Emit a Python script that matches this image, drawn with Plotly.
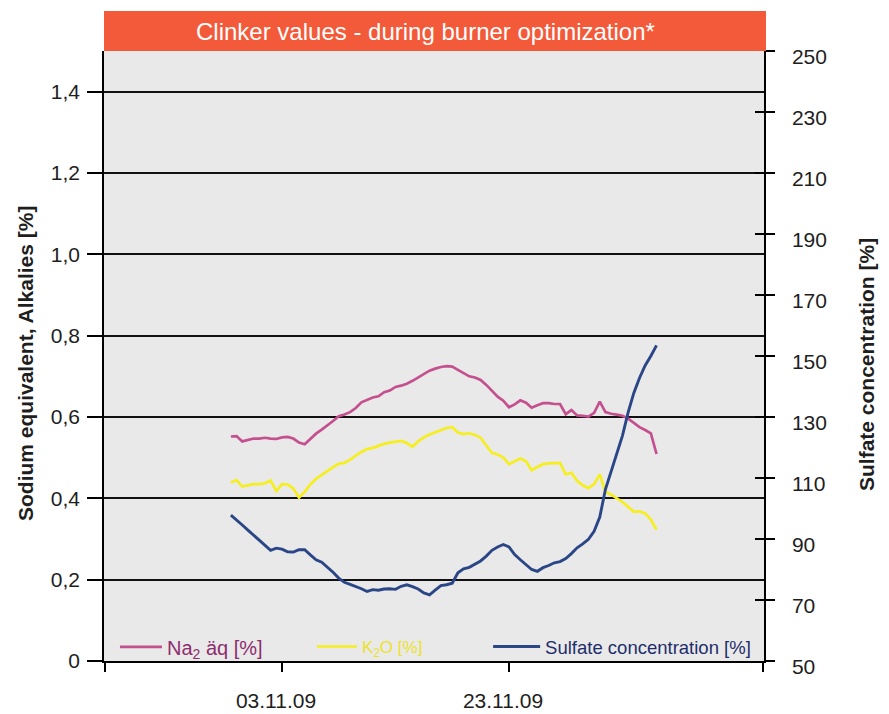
import plotly.graph_objects as go
import pandas as pd

# ---- data ----
dates = pd.date_range("2009-10-29 12:00", periods=76, freq="12h")

na2_eq = [0.552, 0.553, 0.540, 0.543, 0.547, 0.547, 0.549, 0.547, 0.546, 0.550,
          0.551, 0.547, 0.537, 0.533, 0.547, 0.559, 0.569, 0.579, 0.590, 0.602,
          0.606, 0.612, 0.622, 0.636, 0.643, 0.648, 0.651, 0.661, 0.665, 0.674,
          0.677, 0.682, 0.689, 0.697, 0.705, 0.714, 0.719, 0.723, 0.725, 0.724,
          0.716, 0.707, 0.700, 0.697, 0.691, 0.679, 0.665, 0.650, 0.640, 0.624,
          0.631, 0.641, 0.635, 0.623, 0.629, 0.634, 0.634, 0.632, 0.632, 0.607,
          0.617, 0.604, 0.603, 0.601, 0.610, 0.638, 0.612, 0.608, 0.606, 0.603,
          0.596, 0.585, 0.575, 0.568, 0.560, 0.509]

k2o = [0.439, 0.445, 0.429, 0.432, 0.435, 0.435, 0.437, 0.444, 0.418, 0.435,
       0.434, 0.424, 0.402, 0.416, 0.434, 0.448, 0.458, 0.468, 0.477, 0.485,
       0.487, 0.495, 0.505, 0.514, 0.521, 0.524, 0.529, 0.534, 0.537, 0.539,
       0.541, 0.536, 0.527, 0.540, 0.550, 0.557, 0.562, 0.569, 0.573, 0.575,
       0.562, 0.558, 0.560, 0.556, 0.549, 0.530, 0.512, 0.508, 0.500, 0.484,
       0.491, 0.498, 0.491, 0.469, 0.477, 0.484, 0.486, 0.486, 0.487, 0.459,
       0.463, 0.443, 0.432, 0.425, 0.435, 0.459, 0.416, 0.409, 0.400, 0.391,
       0.379, 0.367, 0.368, 0.363, 0.348, 0.323]

sulfate = [97.8, 96.3, 94.6, 92.9, 91.3, 89.5, 88.2, 86.3, 87.0, 86.7,
           85.8, 85.7, 86.5, 86.5, 84.8, 83.2, 82.4, 80.8, 79.1, 77.2,
           75.8, 75.1, 74.5, 73.7, 72.8, 73.4, 73.2, 73.6, 73.7, 73.5,
           74.5, 75.0, 74.4, 73.6, 72.3, 71.7, 73.2, 74.7, 75.0, 75.5,
           78.9, 80.2, 80.7, 81.8, 82.8, 84.4, 86.3, 87.4, 88.2, 87.4,
           84.9, 83.2, 81.7, 80.0, 79.4, 80.6, 81.3, 82.2, 82.6, 83.6,
           85.2, 87.1, 88.4, 89.9, 92.5, 97.2, 106.3, 112.4, 118.6, 123.9,
           131.5, 137.9, 142.8, 146.9, 150.0, 153.5]

left_ticks = [0, 0.2, 0.4, 0.6, 0.8, 1.0, 1.2, 1.4]
left_labels = ["0", "0,2", "0,4", "0,6", "0,8", "1,0", "1,2", "1,4"]
right_ticks = [50, 70, 90, 110, 130, 150, 170, 190, 210, 230, 250]
x_tickvals = ["2009-10-18 09:00", "2009-11-03", "2009-11-23", "2009-12-15 10:00"]
x_ticktext = [" ", "03.11.09", "23.11.09", " "]
x_range = ["2009-10-18 07:40", "2009-12-15 11:15"]

title_text = "Clinker values - during burner optimization*"
left_title = "Sodium equivalent, Alkalies [%]"
right_title = "Sulfate concentration [%]"

FONT = "Liberation Sans, Arial, sans-serif"
C_NA = "#C4508F"
C_K = "#F6EE1E"
C_SO = "#2A4686"
TXT = "#1E1E1E"

# figure geometry (page has an 8px body margin)
W, H = 881, 706
L, R, T, B = 96, 125, 43, 53
PW = W - L - R   # 660
PH = H - T - B   # 610

fig = go.Figure()
fig.add_trace(go.Scatter(x=dates, y=na2_eq, mode="lines", name="Na<sub>2</sub> äq [%]",
                         line=dict(color=C_NA, width=2.7), legend="legend"))
fig.add_trace(go.Scatter(x=dates, y=k2o, mode="lines", name="K<sub>2</sub>O [%]",
                         line=dict(color=C_K, width=2.7), legend="legend2"))
fig.add_trace(go.Scatter(x=dates, y=sulfate, mode="lines", name="Sulfate concentration [%]",
                         line=dict(color=C_SO, width=2.9), yaxis="y2", legend="legend3"))
# invisible helper trace so the inner right tick axis is drawn
fig.add_trace(go.Scatter(x=[dates[0]], y=[None], yaxis="y3", showlegend=False,
                         hoverinfo="skip", mode="lines"))

leg_common = dict(orientation="h", yanchor="middle", xanchor="left", y=0.023,
                  bgcolor="rgba(0,0,0,0)")

fig.update_layout(
    width=W, height=H,
    margin=dict(l=L, r=R, t=T, b=B, autoexpand=False),
    paper_bgcolor="white",
    plot_bgcolor="#E9E9E9",
    font=dict(family=FONT, size=20, color=TXT),
    showlegend=True,
    legend=dict(leg_common, x=0.0166, itemwidth=42,
                font=dict(family=FONT, size=20, color="#8E2D6E")),
    legend2=dict(leg_common, x=0.315, itemwidth=40,
                 font=dict(family=FONT, size=17, color="#EDE22A")),
    legend3=dict(leg_common, x=0.582, itemwidth=47,
                 font=dict(family=FONT, size=18.5, color="#1E2D6A")),
    xaxis=dict(type="date", range=x_range, tickvals=x_tickvals, ticktext=x_ticktext,
               showgrid=False, zeroline=False, showline=True, linecolor="black", linewidth=1.5,
               ticks="outside", ticklen=9, tickwidth=1.5, tickcolor="black",
               ticklabelstandoff=11, ticklabelshift=-6,
               tickfont=dict(family=FONT, size=21, color=TXT)),
    yaxis=dict(range=[0, 1.5], tickvals=left_ticks, ticktext=left_labels,
               showgrid=True, gridcolor="#111111", gridwidth=2, zeroline=False,
               showline=True, linecolor="black", linewidth=1.5,
               ticks="outside", ticklen=15, tickwidth=1.5, tickcolor="black",
               ticklabelstandoff=3,
               tickfont=dict(family=FONT, size=21, color=TXT)),
    yaxis2=dict(range=[50, 250], tickvals=right_ticks, overlaying="y", side="right",
                anchor="x", showgrid=False, zeroline=False,
                showline=True, linecolor="black", linewidth=1.5,
                ticks="outside", ticklen=9, tickwidth=1.5, tickcolor="black",
                ticklabelstandoff=13, ticklabelshift=6,
                tickfont=dict(family=FONT, size=21, color=TXT)),
    yaxis3=dict(range=[50, 250], tickvals=right_ticks, overlaying="y", side="right",
                anchor="x", showgrid=False, zeroline=False, showline=False,
                showticklabels=False, ticks="inside", ticklen=9, tickwidth=1.5,
                tickcolor="black"),
)

# Title banner
fig.add_shape(type="rect", xref="paper", yref="paper", x0=0, x1=1.003,
              y0=1.0, y1=1.0 + 40 / PH, fillcolor="#F25A3A", line=dict(width=0),
              layer="above")
fig.add_annotation(text=title_text, xref="paper", yref="paper", x=(425 - 104) / PW,
                   y=1.0 + 19 / PH, showarrow=False, xanchor="center", yanchor="middle",
                   font=dict(family=FONT, size=24, color="white"))

# Axis titles
fig.add_annotation(text="<b>" + left_title + "</b>", xref="paper", yref="paper",
                   x=(25 - 104) / PW, y=(661 - 364) / PH, textangle=-90, showarrow=False,
                   xanchor="center", yanchor="middle",
                   font=dict(family=FONT, size=21, color=TXT))
fig.add_annotation(text="<b>" + right_title + "</b>", xref="paper", yref="paper",
                   x=(866 - 104) / PW, y=(661 - 365) / PH, textangle=-90, showarrow=False,
                   xanchor="center", yanchor="middle",
                   font=dict(family=FONT, size=21, color=TXT))

fig.write_html("out.html")
